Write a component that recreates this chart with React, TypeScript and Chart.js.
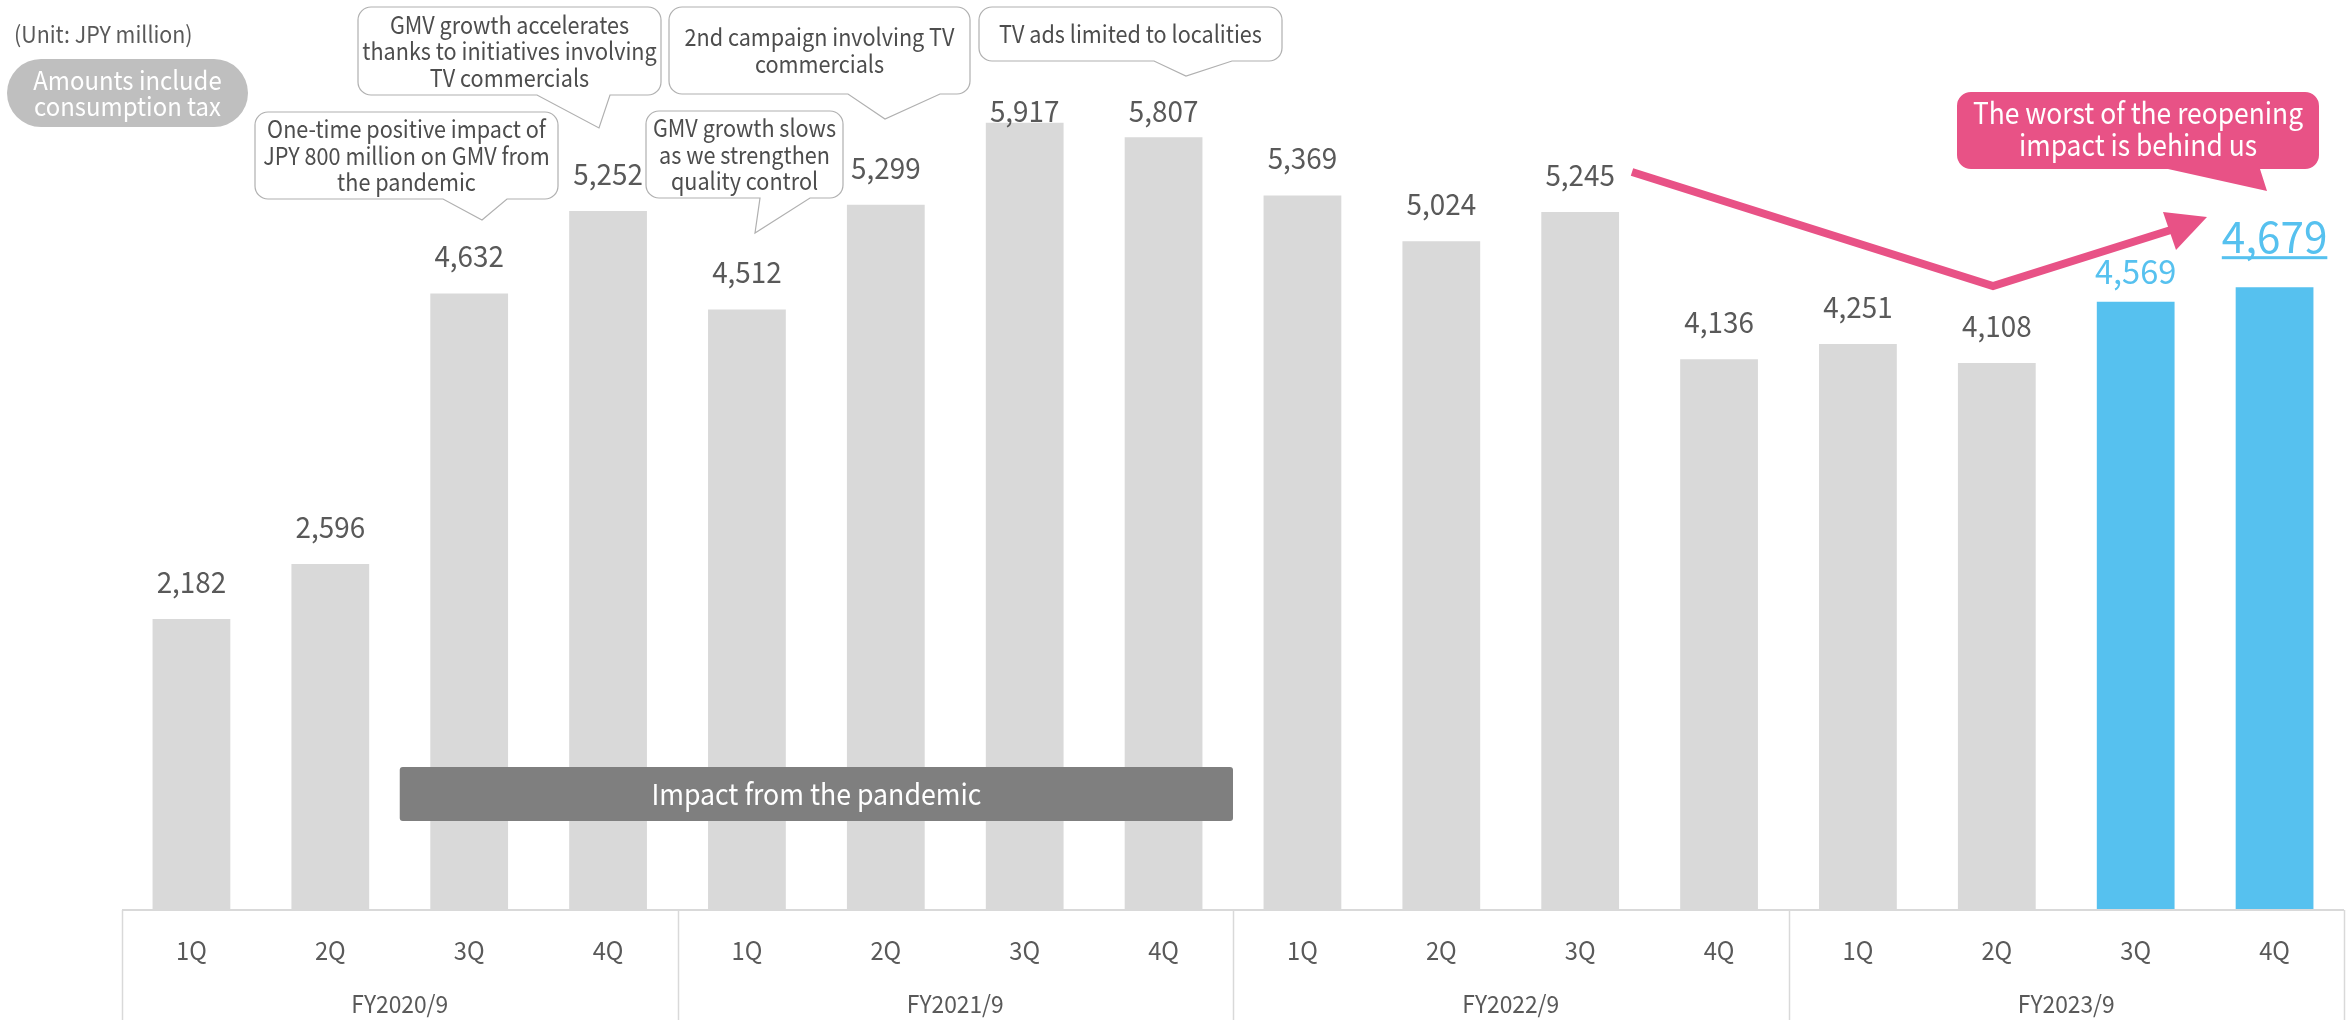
import React, { useEffect, useRef } from "react";
import { Chart, registerables } from "chart.js";

Chart.register(...registerables);

// ---------------- data ----------------
const quarterLabels = ["1Q", "2Q", "3Q", "4Q", "1Q", "2Q", "3Q", "4Q", "1Q", "2Q", "3Q", "4Q", "1Q", "2Q", "3Q", "4Q"];
const fiscalYears = ["FY2020/9", "FY2021/9", "FY2022/9", "FY2023/9"];
const gmvValues = [2182, 2596, 4632, 5252, 4512, 5299, 5917, 5807, 5369, 5024, 5245, 4136, 4251, 4108, 4569, 4679];
const unitText = "(Unit: JPY million)";
const taxNoteLines = ["Amounts include", "consumption tax"];
const pandemicText = "Impact from the pandemic";
const reopeningLines = ["The worst of the reopening", "impact is behind us"];
const calloutTexts = [
  ["GMV growth accelerates", "thanks to initiatives involving", "TV commercials"],
  ["One-time positive impact of", "JPY 800 million on GMV from", "the pandemic"],
  ["GMV growth slows", "as we strengthen", "quality control"],
  ["2nd campaign involving TV", "commercials"],
  ["TV ads limited to localities"],
];

// ---------------- styles ----------------
const FONT = '"Noto Sans CJK JP", "Noto Sans", sans-serif';
const GRAY_BAR = "#d9d9d9";
const BLUE = "#56c1ef";
const PINK = "#e85286";
const TEXT = "#595959";
const Y_MAX = 6840;

// callout box layout (pixels): l, t, r, b, tail base b1, b2, tip tx, ty
const calloutBoxes = [
  { l: 358, t: 7, r: 661, b: 95, b1: 537, b2: 610, tx: 599, ty: 128 },
  { l: 255, t: 112, r: 558, b: 199, b1: 443, b2: 507, tx: 482, ty: 220 },
  { l: 646, t: 111, r: 843, b: 198, b1: 760, b2: 810, tx: 755, ty: 233 },
  { l: 669, t: 7, r: 970, b: 94, b1: 848, b2: 940, tx: 885, ty: 119 },
  { l: 979, t: 7, r: 1282, b: 61, b1: 1154, b2: 1232, tx: 1186, ty: 76 },
];

function calloutPath(ctx: CanvasRenderingContext2D, bx: any, rad: number) {
  const { l, t, r, b, b1, b2, tx, ty } = bx;
  ctx.beginPath();
  ctx.moveTo(l + rad, t);
  ctx.arcTo(r, t, r, b, rad);
  ctx.arcTo(r, b, l, b, rad);
  ctx.lineTo(b2, b);
  ctx.lineTo(tx, ty);
  ctx.lineTo(b1, b);
  ctx.arcTo(l, b, l, t, rad);
  ctx.arcTo(l, t, r, t, rad);
  ctx.closePath();
}

function roundRect(ctx: CanvasRenderingContext2D, l: number, t: number, r: number, b: number, rad: number) {
  ctx.beginPath();
  ctx.moveTo(l + rad, t);
  ctx.arcTo(r, t, r, b, rad);
  ctx.arcTo(r, b, l, b, rad);
  ctx.arcTo(l, b, l, t, rad);
  ctx.arcTo(l, t, r, t, rad);
  ctx.closePath();
}

// text drawn slightly condensed horizontally to match the narrow source font
function condensedText(ctx: CanvasRenderingContext2D, s: string, x: number, y: number, sx: number) {
  ctx.save();
  ctx.translate(x, y);
  ctx.scale(sx, 1);
  ctx.fillText(s, 0, 0);
  ctx.restore();
}

function centeredLines(ctx: CanvasRenderingContext2D, lines: string[], cx: number, cy: number, lh: number, sx: number) {
  const n = lines.length;
  lines.forEach((s, i) => {
    condensedText(ctx, s, cx, cy + (i - (n - 1) / 2) * lh, sx);
  });
}

const overlayPlugin = {
  id: "overlay",
  afterDatasetsDraw(chart: any) {
    const ctx: CanvasRenderingContext2D = chart.ctx;
    const xs = chart.scales.x;
    const ys = chart.scales.y;
    const area = chart.chartArea;
    const n = gmvValues.length;
    const step = (area.right - area.left) / n;
    const base = area.bottom;
    const H = chart.height;
    ctx.save();

    // axis base line
    ctx.strokeStyle = GRAY_BAR;
    ctx.lineWidth = 2;
    ctx.beginPath();
    ctx.moveTo(area.left, base + 1);
    ctx.lineTo(area.right, base + 1);
    ctx.stroke();

    // group separators
    ctx.lineWidth = 1.5;
    for (let g = 0; g <= fiscalYears.length; g++) {
      const gx = Math.round(area.left + g * 4 * step) + 0.5;
      ctx.beginPath();
      ctx.moveTo(gx, base + 1);
      ctx.lineTo(gx, H);
      ctx.stroke();
    }

    // quarter labels
    ctx.fillStyle = TEXT;
    ctx.textAlign = "center";
    ctx.textBaseline = "middle";
    ctx.font = `25px ${FONT}`;
    quarterLabels.forEach((q, i) => {
      condensedText(ctx, q, xs.getPixelForValue(i), base + 41, 0.95);
    });
    // fiscal year labels
    ctx.font = `24px ${FONT}`;
    fiscalYears.forEach((fy, g) => {
      condensedText(ctx, fy, area.left + (4 * g + 2) * step, base + 95, 0.95);
    });

    // value labels
    ctx.textBaseline = "alphabetic";
    gmvValues.forEach((v, i) => {
      const cx = xs.getPixelForValue(i);
      const top = ys.getPixelForValue(v);
      const txt = v.toLocaleString("en-US");
      if (i === n - 1) {
        ctx.font = `44px ${FONT}`;
        ctx.fillStyle = BLUE;
        const yb = top - 34;
        condensedText(ctx, txt, cx, yb, 0.96);
        const w = ctx.measureText(txt).width * 0.96;
        ctx.fillRect(cx - w / 2, yb + 3, w, 3);
      } else if (i === n - 2) {
        ctx.font = `34px ${FONT}`;
        ctx.fillStyle = BLUE;
        condensedText(ctx, txt, cx, top - 18, 0.96);
      } else {
        ctx.font = `29px ${FONT}`;
        ctx.fillStyle = TEXT;
        condensedText(ctx, txt, cx, Math.max(top - 26, 122), 0.96);
      }
    });

    // pandemic banner (3Q FY2020 .. 4Q FY2021)
    const bl = area.left + 2 * step;
    const br = area.left + 8 * step;
    ctx.fillStyle = "#7f7f7f";
    roundRect(ctx, bl, 767, br, 821, 3);
    ctx.fill();
    ctx.fillStyle = "#ffffff";
    ctx.font = `29px ${FONT}`;
    ctx.textBaseline = "middle";
    condensedText(ctx, pandemicText, (bl + br) / 2, 794, 0.92);

    // white callouts
    calloutBoxes.forEach((bx, k) => {
      calloutPath(ctx, bx, 13);
      ctx.fillStyle = "#ffffff";
      ctx.fill();
      ctx.strokeStyle = "#b0b0b0";
      ctx.lineWidth = 1.2;
      ctx.stroke();
      ctx.fillStyle = "#4d4d4d";
      ctx.font = `24px ${FONT}`;
      ctx.textBaseline = "middle";
      centeredLines(ctx, calloutTexts[k], (bx.l + bx.r) / 2, (bx.t + bx.b) / 2, 26.5, 0.9);
    });

    // unit label
    ctx.fillStyle = TEXT;
    ctx.font = `23px ${FONT}`;
    ctx.textAlign = "left";
    ctx.textBaseline = "alphabetic";
    condensedText(ctx, unitText, 14, 43, 0.93);

    // tax pill
    ctx.fillStyle = "#bfbfbf";
    roundRect(ctx, 7, 59, 248, 127, 34);
    ctx.fill();
    ctx.fillStyle = "#ffffff";
    ctx.font = `26px ${FONT}`;
    ctx.textAlign = "center";
    ctx.textBaseline = "middle";
    centeredLines(ctx, taxNoteLines, 127.5, 93, 26, 0.92);

    // pink trend arrow
    ctx.strokeStyle = PINK;
    ctx.fillStyle = PINK;
    ctx.lineWidth = 8;
    ctx.lineJoin = "miter";
    ctx.beginPath();
    ctx.moveTo(1632, 172);
    ctx.lineTo(1993, 286);
    ctx.lineTo(2174, 229);
    ctx.stroke();
    ctx.beginPath();
    ctx.moveTo(2207, 217);
    ctx.lineTo(2163, 212);
    ctx.lineTo(2176, 250);
    ctx.closePath();
    ctx.fill();

    // pink callout
    calloutPath(ctx, { l: 1957, t: 92, r: 2319, b: 169, b1: 2168, b2: 2260, tx: 2267, ty: 191 }, 14);
    ctx.fillStyle = PINK;
    ctx.fill();
    ctx.fillStyle = "#ffffff";
    ctx.font = `30px ${FONT}`;
    ctx.textAlign = "center";
    ctx.textBaseline = "middle";
    centeredLines(ctx, reopeningLines, 2138, 129, 32, 0.88);

    ctx.restore();
  },
};

export default function App() {
  const canvasRef = useRef<HTMLCanvasElement | null>(null);
  useEffect(() => {
    const canvas = canvasRef.current;
    if (!canvas) return;
    const colors = gmvValues.map((_, i) => (i >= gmvValues.length - 2 ? BLUE : GRAY_BAR));
    const chart = new Chart(canvas, {
      type: "bar",
      data: {
        labels: quarterLabels.map((q, i) => `${fiscalYears[Math.floor(i / 4)]} ${q}`),
        datasets: [
          {
            data: gmvValues,
            backgroundColor: colors,
            borderWidth: 0,
            barPercentage: 0.56,
            categoryPercentage: 1,
          },
        ],
      },
      options: {
        responsive: false,
        devicePixelRatio: 1,
        animation: false,
        layout: { padding: { left: 122, right: 7, top: 0, bottom: 111 } },
        plugins: { legend: { display: false }, tooltip: { enabled: false } },
        scales: {
          x: { display: false, offset: true },
          y: { display: false, min: 0, max: Y_MAX },
        },
      },
      plugins: [overlayPlugin],
    });
    return () => chart.destroy();
  }, []);
  return (
    <div style={{ position: "absolute", left: 0, top: 0, width: 2351, height: 1020, background: "#ffffff" }}>
      <canvas ref={canvasRef} width={2351} height={1020} style={{ display: "block" }} />
    </div>
  );
}
